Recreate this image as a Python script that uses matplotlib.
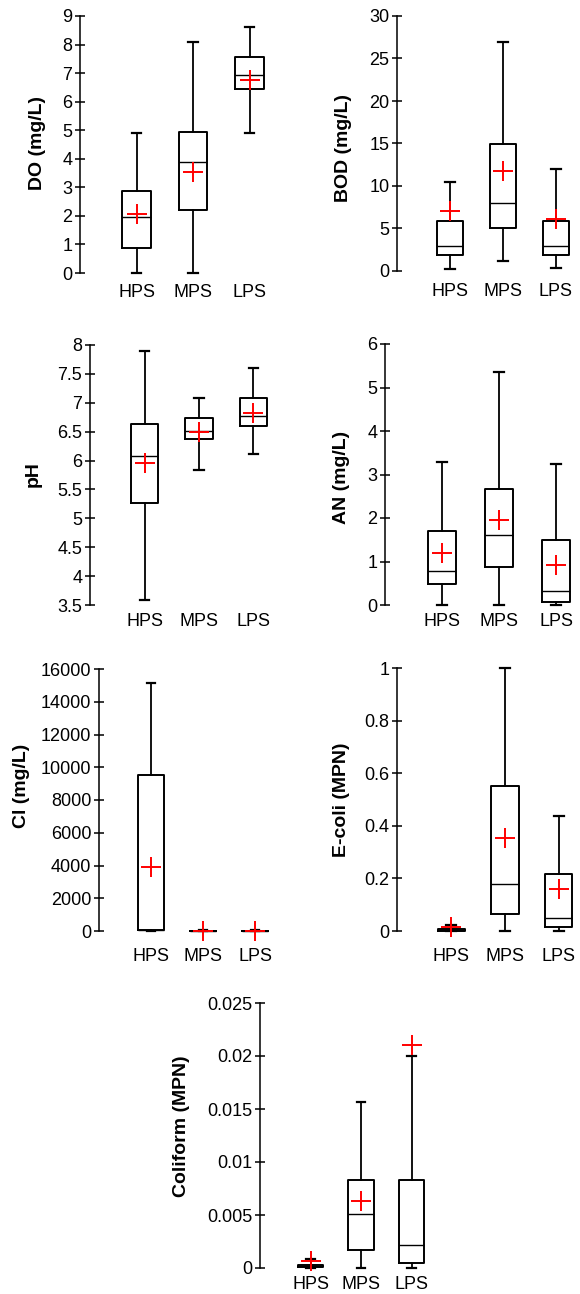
import numpy as np
import matplotlib
matplotlib.use("Agg")
import matplotlib.pyplot as plt
from matplotlib.ticker import FuncFormatter

plt.rcParams['font.family'] = ['Liberation Sans', 'DejaVu Sans']

sites = ["HPS", "MPS", "LPS"]

# per parameter: whislo, q1, med, q3, whishi, mean (one row per site)
do_stats = [[0, 0.88, 1.95, 2.88, 4.9, 2.05],
            [0, 2.2, 3.88, 4.95, 8.1, 3.55],
            [4.9, 6.43, 6.93, 7.55, 8.62, 6.75]]
bod_stats = [[0.2, 1.9, 2.9, 5.9, 10.5, 7.1],
             [1.2, 5.0, 8.0, 14.9, 26.9, 11.8],
             [0.4, 1.9, 2.9, 5.9, 12.0, 6.1]]
ph_stats = [[3.59, 5.27, 6.08, 6.64, 7.9, 5.96],
            [5.84, 6.37, 6.52, 6.73, 7.08, 6.49],
            [6.11, 6.59, 6.77, 7.08, 7.61, 6.83]]
an_stats = [[0, 0.48, 0.78, 1.71, 3.29, 1.2],
            [0, 0.87, 1.61, 2.66, 5.36, 1.95],
            [0, 0.07, 0.32, 1.49, 3.23, 0.91]]
cl_stats = [[0, 40, 90, 9540, 15150, 3890],
            [0, 5, 15, 30, 50, 0],
            [0, 5, 15, 30, 50, 0]]
ecoli_stats = [[0, 0.001, 0.004, 0.008, 0.022, 0.016],
               [0, 0.063, 0.18, 0.552, 1.0, 0.355],
               [0, 0.014, 0.05, 0.217, 0.439, 0.159]]
coli_stats = [[0, 0.0001, 0.0002, 0.0003, 0.00085, 0.00063],
              [0, 0.00167, 0.0051, 0.00833, 0.01566, 0.00635],
              [0, 0.00047, 0.0022, 0.00833, 0.02, 0.021]]

do_ticks = np.arange(0, 10, 1)
bod_ticks = np.arange(0, 31, 5)
ph_ticks = np.arange(3.5, 8.01, 0.5)
an_ticks = np.arange(0, 7, 1)
cl_ticks = np.arange(0, 16001, 2000)
ecoli_ticks = np.arange(0, 1.01, 0.2)
coli_ticks = np.arange(0, 0.0251, 0.005)

W, H = 580, 1294
fig = plt.figure(figsize=(W / 100, H / 100), dpi=100)

# name, stats, ticks, axis-x px, top px, bottom px, px per category, label x px, label y px, xlabel pad
panels = [
    ("DO (mg/L)", do_stats, do_ticks, 80, 16, 273, 56.5, 37, 143, 8),
    ("BOD (mg/L)", bod_stats, bod_ticks, 397, 16, 271, 53, 343, 148, 9),
    ("pH", ph_stats, ph_ticks, 90, 345, 605, 54.5, 33, 474, 6),
    ("AN (mg/L)", an_stats, an_ticks, 385, 344, 605, 57, 342, 477, 6),
    ("Cl (mg/L)", cl_stats, cl_ticks, 99, 669, 931, 52, 22, 786, 12),
    ("E-coli (MPN)", ecoli_stats, ecoli_ticks, 397, 668, 931, 54, 342, 800, 12),
    ("Coliform (MPN)", coli_stats, coli_ticks, 260, 1003, 1268, 50.5, 182, 1126, 6),
]

for label, stats, ticks, x0, top, bot, step, lx, ly, pad in panels:
    xmax = 3.4
    ax = fig.add_axes([x0 / W, 1 - bot / H, xmax * step / W, (bot - top) / H])
    bxp_stats = []
    for name, s in zip(sites, stats):
        bxp_stats.append(dict(label=name, whislo=s[0], q1=s[1], med=s[2],
                              q3=s[3], whishi=s[4], mean=s[5], fliers=[]))
    arts = ax.bxp(bxp_stats, positions=[1, 2, 3], widths=0.5, capwidths=0.17,
                  showmeans=True, showfliers=False,
                  boxprops=dict(color='black', linewidth=1.4),
                  whiskerprops=dict(color='black', linewidth=1.3),
                  capprops=dict(color='black', linewidth=1.6),
                  medianprops=dict(color='black', linewidth=1.0),
                  meanprops=dict(marker='+', markeredgecolor='red', markersize=15,
                                 markeredgewidth=1.4, linestyle='none'))
    for group in arts.values():
        for a in group:
            a.set_clip_on(False)
    ax.set_xlim(0, xmax)
    ax.set_ylim(ticks[0], ticks[-1])
    ax.set_yticks(ticks)
    ax.yaxis.set_major_formatter(FuncFormatter(lambda v, p: f"{v:g}"))
    for side in ['top', 'right', 'bottom']:
        ax.spines[side].set_visible(False)
    ax.spines['left'].set_linewidth(1.1)
    ax.tick_params(axis='y', direction='inout', length=7, width=1.1, labelsize=13, pad=2)
    ax.tick_params(axis='x', length=0, labelsize=13, pad=pad)
    ax.patch.set_visible(False)
    fig.text(lx / W, 1 - ly / H, label, rotation=90, ha='center', va='center',
             fontsize=14, fontweight='bold')

fig.savefig("out.png", dpi=100)
